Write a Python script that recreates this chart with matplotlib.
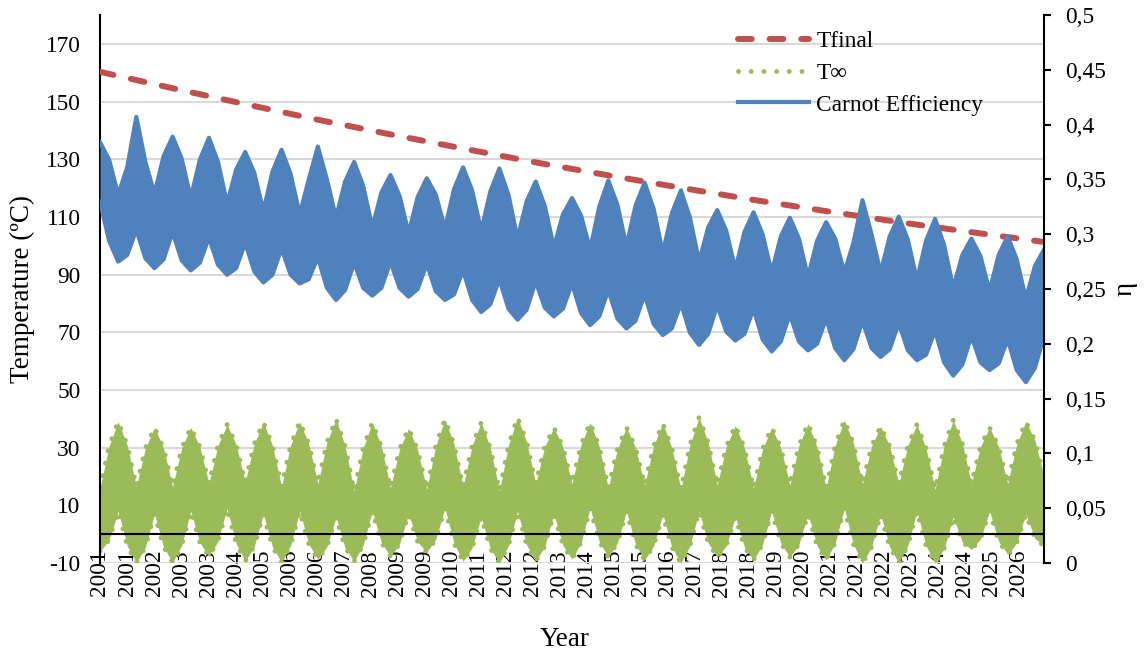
import numpy as np
import matplotlib
matplotlib.use('Agg')
import matplotlib.pyplot as plt
from matplotlib.ticker import FuncFormatter

# time axis in years since 1 Jan 2001, sampled every quarter (Jan, Apr, Jul, Oct)
season_t = np.arange(0, 26.01, 0.25)

# reservoir temperature (ºC), every two years
tf_years = np.arange(0, 27, 2)
t_final = [160.3, 154.6, 149.1, 143.7, 138.6, 133.7, 128.9,
           124.4, 120.1, 115.9, 112.0, 108.2, 104.7, 101.3]

# ambient temperature envelope (ºC): upper edge
amb_hi_jan = [16, 16.5, 16.5, 17.5, 18, 16.5, 17.5, 15, 16, 15.5, 16.5, 15, 17.5,
              17.5, 16, 17, 15.5, 17, 16, 17, 16, 17.5, 17.5, 15.5, 17.5, 17.5, 20]
amb_hi_apr = [30.5, 29.8, 29.8, 30.8, 31.4, 30.8, 31.8, 29.9, 29.4, 30.7, 30.7, 30.8, 30.3,
              31.1, 29.5, 30.7, 31.0, 30.4, 29.5, 30.7, 30.8, 30.5, 30.8, 30.5, 30.3, 31.3]
amb_hi_jul = [39, 37, 37, 38, 38.8, 39, 40, 38.7, 36.7, 39.8, 38.8, 40.5, 37,
              38.7, 37, 38.4, 40.5, 37.7, 37, 38.4, 39.5, 37.4, 38, 39.5, 37, 39]
amb_hi_oct = [30.8, 29.8, 30.3, 31.0, 30.7, 31.3, 30.5, 30.4, 29.1, 31.2, 29.9, 32.0, 30.3,
              30.4, 30.0, 29.9, 31.8, 29.9, 30.0, 30.2, 31.5, 30.5, 29.8, 31.5, 30.3, 32.5]
# ambient temperature envelope (ºC): lower edge
amb_lo_jan = [-6, -10, -9.8, -7.7, -9.4, -9.8, -8.7, -9.4, -7.7, -6.3, -9.4, -10, -9.4,
              -8.7, -8, -9, -10, -8, -9, -8, -9, -10, -10, -10, -5.3, -7, -4]
amb_lo_apr = [-2.0, -4.5, -3.9, -2.4, -4.2, -3.9, -4.4, -3.7, -3.4, -1.7, -4.7, -4.0, -4.2,
              -2.9, -3.0, -4.0, -4.0, -4.0, -3.5, -3.5, -3.0, -4.5, -4.0, -5.0, -1.7, -3.0]
amb_lo_jul = [8, 7, 8, 9, 7, 8, 6, 8, 7, 9, 6, 8, 7,
              9, 8, 7, 8, 6, 8, 7, 9, 7, 8, 6, 8, 7]
amb_lo_oct = [-4.0, -4.4, -2.9, -3.2, -4.4, -3.4, -4.7, -2.9, -2.7, -3.2, -5.0, -3.7, -3.9,
              -2.5, -3.5, -4.5, -3.0, -4.5, -3.0, -4.0, -3.5, -4.5, -4.0, -2.7, -2.5, -1.5]

# Carnot efficiency envelope: upper edge
eta_hi_jan = [0.384, 0.407, 0.389, 0.388, 0.375, 0.377, 0.380, 0.366, 0.354, 0.351,
              0.361, 0.360, 0.348, 0.333, 0.349, 0.347, 0.340, 0.322, 0.320, 0.315,
              0.311, 0.331, 0.316, 0.314, 0.296, 0.298, 0.286]
eta_hi_apr = [0.368, 0.366, 0.369, 0.366, 0.356, 0.355, 0.350, 0.344, 0.335, 0.336,
              0.340, 0.336, 0.326, 0.317, 0.327, 0.323, 0.315, 0.303, 0.300, 0.296,
              0.296, 0.300, 0.295, 0.290, 0.280, 0.277]
eta_hi_jul = [0.336, 0.337, 0.333, 0.328, 0.321, 0.318, 0.315, 0.306, 0.301, 0.305,
              0.303, 0.296, 0.288, 0.286, 0.289, 0.283, 0.275, 0.268, 0.265, 0.261,
              0.265, 0.265, 0.258, 0.251, 0.248, 0.241]
eta_hi_oct = [0.361, 0.371, 0.368, 0.359, 0.357, 0.350, 0.348, 0.338, 0.334, 0.341,
              0.339, 0.330, 0.318, 0.325, 0.326, 0.319, 0.306, 0.302, 0.298, 0.294,
              0.292, 0.298, 0.294, 0.281, 0.281, 0.271]
# Carnot efficiency envelope: lower edge
eta_lo_jan = [0.330, 0.304, 0.302, 0.297, 0.292, 0.287, 0.279, 0.274, 0.275, 0.273,
              0.267, 0.259, 0.257, 0.255, 0.249, 0.245, 0.237, 0.235, 0.232, 0.227,
              0.223, 0.221, 0.219, 0.212, 0.207, 0.204, 0.207]
eta_lo_apr = [0.294, 0.278, 0.276, 0.272, 0.266, 0.263, 0.251, 0.251, 0.251, 0.248,
              0.240, 0.232, 0.233, 0.228, 0.223, 0.218, 0.210, 0.211, 0.204, 0.202,
              0.196, 0.196, 0.194, 0.183, 0.183, 0.176]
eta_lo_jul = [0.275, 0.269, 0.267, 0.263, 0.256, 0.255, 0.240, 0.244, 0.243, 0.240,
              0.229, 0.222, 0.225, 0.217, 0.214, 0.208, 0.199, 0.203, 0.193, 0.194,
              0.185, 0.188, 0.185, 0.171, 0.176, 0.165]
eta_lo_oct = [0.281, 0.277, 0.274, 0.269, 0.263, 0.259, 0.249, 0.251, 0.250, 0.245,
              0.236, 0.231, 0.232, 0.225, 0.221, 0.214, 0.209, 0.209, 0.202, 0.200,
              0.195, 0.195, 0.190, 0.181, 0.182, 0.178]

year_labels = ['2001', '2001', '2002', '2003', '2003', '2004', '2005', '2006', '2006',
               '2007', '2008', '2009', '2009', '2010', '2011', '2012', '2012', '2013',
               '2014', '2015', '2015', '2016', '2017', '2018', '2018', '2019', '2020',
               '2021', '2021', '2022', '2023', '2024', '2024', '2025', '2026']
label_step = 0.744  # years between category labels


def quarters(jan, apr, jul, octo):
    out = np.empty(len(jan) + len(apr) + len(jul) + len(octo))
    out[0::4] = jan
    out[1::4] = apr
    out[2::4] = jul
    out[3::4] = octo
    return out


amb_hi = quarters(amb_hi_jan, amb_hi_apr, amb_hi_jul, amb_hi_oct)
amb_lo = quarters(amb_lo_jan, amb_lo_apr, amb_lo_jul, amb_lo_oct)
eta_hi = quarters(eta_hi_jan, eta_hi_apr, eta_hi_jul, eta_hi_oct)
eta_lo = quarters(eta_lo_jan, eta_lo_apr, eta_lo_jul, eta_lo_oct)

RED = '#C0504D'
GREEN = '#9BBB59'
BLUE = '#4F81BD'

plt.rcParams['font.family'] = ['Liberation Serif', 'DejaVu Serif']
plt.rcParams['font.size'] = 16.8
plt.rcParams['axes.unicode_minus'] = False

fig = plt.figure(figsize=(11.47, 6.54), dpi=100)
ax = fig.add_axes([100 / 1147, 1 - 563 / 654, 944 / 1147, 548 / 654])
ax2 = ax.twinx()

# temperature axis
l_tf, = ax.plot(tf_years, t_final, color=RED, lw=4.3, dashes=(2.3, 3.0),
                dash_capstyle='round', label='Tfinal', zorder=4)
ax.fill_between(season_t, amb_lo, amb_hi, color=GREEN, lw=0, zorder=2)
l_amb, = ax.plot(season_t, amb_hi, color=GREEN, lw=3.5, dashes=(0.01, 2.6),
                 dash_capstyle='round', label='T∞', zorder=2)
ax.plot(season_t, amb_lo, color=GREEN, lw=3.5, dashes=(0.01, 2.6),
        dash_capstyle='round', zorder=2)
ax.axhline(0, color='black', lw=1.5, zorder=3)

# efficiency axis
ax2.fill_between(season_t, eta_lo, eta_hi, color=BLUE, lw=0)
l_eta, = ax2.plot(season_t, eta_hi, color=BLUE, lw=3, solid_joinstyle='round',
                  label='Carnot Efficiency')
ax2.plot(season_t, eta_lo, color=BLUE, lw=3, solid_joinstyle='round')

ax.set_xlim(0, 26)
ax.set_ylim(-10, 180)
ax.set_yticks(np.arange(-10, 171, 20))
ax2.set_ylim(0, 0.5)
ax2.set_yticks(np.arange(0, 0.501, 0.05))
ax2.yaxis.set_major_formatter(FuncFormatter(lambda v, p: f'{round(v, 2):g}'.replace('.', ',')))

ax.set_xticks(np.arange(len(year_labels)) * label_step)
ax.set_xticklabels(year_labels, rotation=90, va='top', ha='center')
ax.tick_params(axis='x', length=0, pad=-9.4)
ax.tick_params(axis='y', length=0, pad=14)
ax2.tick_params(axis='y', length=5, width=1.5, pad=10, direction='out')

ax.yaxis.grid(True, color='#D9D9D9', lw=1.5)
ax.set_axisbelow(True)

for s in ['top', 'bottom', 'right']:
    ax.spines[s].set_visible(False)
for s in ['top', 'bottom', 'left']:
    ax2.spines[s].set_visible(False)
ax.spines['left'].set_linewidth(1.5)
ax2.spines['right'].set_linewidth(1.5)

ax.set_ylabel('Temperature (ºC)', fontsize=19.5)
ax.yaxis.set_label_coords(-0.0826, 0.5)
ax.yaxis.label.set_va('center')
ax2.set_ylabel('η', fontsize=19.5, rotation=90)
ax2.yaxis.set_label_coords(1.0858, 0.5)
ax2.yaxis.label.set_va('center')
ax.set_xlabel('Year', fontsize=19.5)
ax.xaxis.set_label_coords(0.4926, -0.1405)
ax.xaxis.label.set_va('center')

ax2.legend([l_tf, l_amb, l_eta], ['Tfinal', 'T∞', 'Carnot Efficiency'],
           loc='upper left', bbox_to_anchor=(738 / 1147, 1 - 31 / 654),
           bbox_transform=fig.transFigure, frameon=False, borderpad=0,
           borderaxespad=0, handlelength=3.05, handletextpad=0.3, labelspacing=0.44)

fig.savefig('out.png', dpi=100)
